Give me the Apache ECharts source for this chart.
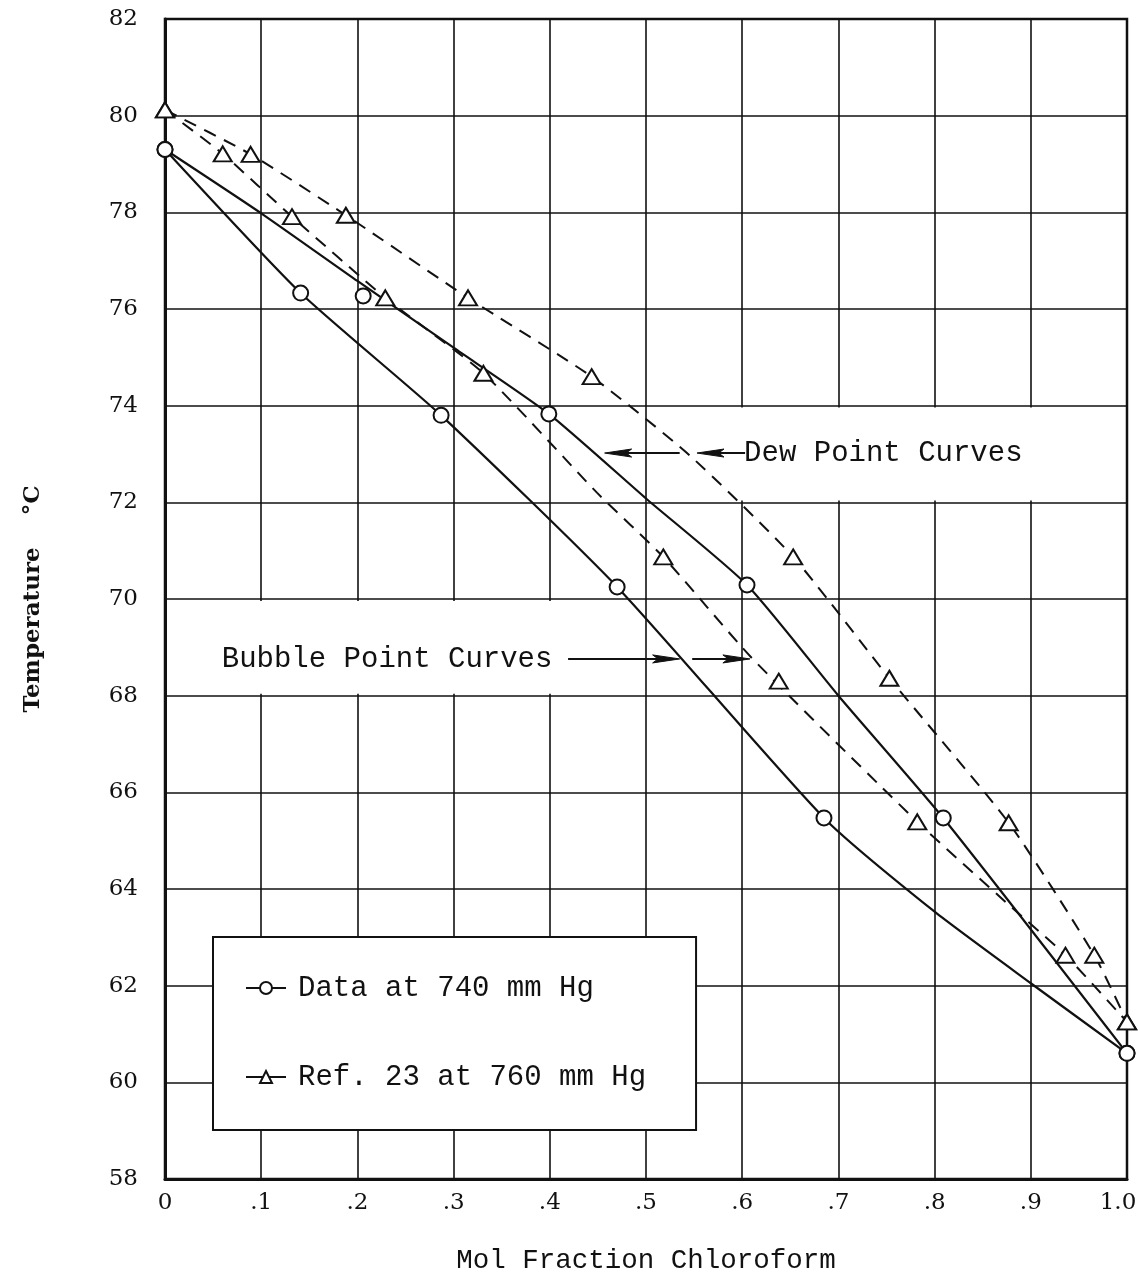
<!DOCTYPE html>
<html>
<head>
<meta charset="utf-8">
<title>Temperature vs Mol Fraction Chloroform</title>
<script src="https://cdn.jsdelivr.net/npm/echarts@6/dist/echarts.min.js"></script>
<style>
  html, body { margin: 0; padding: 0; background: #fff; }
  #chart { width: 1138px; height: 1275px; }
</style>
</head>
<body>
<div id="chart"></div>
<script>
// ---- axis ticks ----
const xTickLabels = ['0', '.1', '.2', '.3', '.4', '.5', '.6', '.7', '.8', '.9', '1.0'];
const yTickValues = [58, 60, 62, 64, 66, 68, 70, 72, 74, 76, 78, 80, 82];

// ---- measured points, 740 mm Hg (circles) ----
const data740BubbleX = [0, 0.141, 0.287, 0.470, 0.685, 1.0];
const data740BubbleT = [79.3, 76.33, 73.80, 70.25, 65.47, 60.6];
const data740DewX = [0, 0.206, 0.399, 0.605, 0.809, 1.0];
const data740DewT = [79.3, 76.27, 73.83, 70.29, 65.47, 60.6];

// ---- Ref. 23 points, 760 mm Hg (triangles) ----
const ref760BubbleX = [0, 0.060, 0.132, 0.229, 0.331, 0.518, 0.638, 0.782, 0.936, 1.0];
const ref760BubbleT = [80.12, 79.21, 77.91, 76.23, 74.67, 70.87, 68.30, 65.39, 62.63, 61.25];
const ref760DewX = [0, 0.089, 0.188, 0.315, 0.4435, 0.653, 0.753, 0.877, 0.966, 1.0];
const ref760DewT = [80.12, 79.20, 77.94, 76.23, 74.60, 70.87, 68.36, 65.37, 62.63, 61.25];

// ---- hand-fitted curves ----
const curve740BubbleX = [0, 0.141, 0.287, 0.470, 0.685, 0.80, 0.90, 1.0];
const curve740BubbleT = [79.3, 76.33, 73.80, 70.25, 65.47, 63.53, 62.05, 60.6];
const curve740DewX = [0, 0.10, 0.20, 0.30, 0.399, 0.50, 0.605, 0.70, 0.809, 1.0];
const curve740DewT = [79.3, 77.98, 76.58, 75.20, 73.83, 72.08, 70.29, 68.00, 65.47, 60.6];
const curveRefBubbleX = [0, 0.060, 0.132, 0.229, 0.331, 0.449, 0.518, 0.610, 0.782, 0.875, 0.936, 1.0];
const curveRefBubbleT = [80.12, 79.21, 77.91, 76.23, 74.67, 72.20, 70.87, 68.78, 65.39, 63.71, 62.63, 61.25];
const curveRefDewX = [0, 0.089, 0.188, 0.315, 0.4435, 0.546, 0.653, 0.753, 0.877, 0.966, 1.0];
const curveRefDewT = [80.12, 79.20, 77.94, 76.23, 74.60, 72.96, 70.87, 68.36, 65.37, 62.63, 61.25];

// ---- annotations (data units) ----
const noteTexts = ['Dew Point Curves', 'Bubble Point Curves'];
const noteX = [0.602, 0.059];
const noteT = [73.02, 68.76];
// arrows: tail x, tip x, temperature
const arrowTail = [0.603, 0.535, 0.419, 0.548];
const arrowTip = [0.553, 0.457, 0.535, 0.608];
const arrowT = [73.02, 73.02, 68.76, 68.76];

const INK = '#111';
const SERIF = '"DejaVu Serif", "Liberation Serif", serif';
const MONO = '"Liberation Mono", "DejaVu Sans Mono", monospace';

const pairs = (xs, ys) => xs.map((x, i) => [x, ys[i]]);

const curveSeries = (data, dashed) => ({
  type: 'line',
  data: data,
  showSymbol: false,
  smooth: 0.2,
  silent: true,
  z: 2,
  lineStyle: { color: INK, width: dashed ? 2 : 2.2, type: dashed ? [13, 9] : 'solid' }
});

const markerSeries = (name, data, symbol, size) => ({
  name: name,
  type: 'line',
  data: data,
  symbol: symbol,
  symbolSize: size,
  showAllSymbol: true,
  silent: true,
  z: 5,
  lineStyle: { opacity: 0, width: 0 },
  itemStyle: { color: '#fff', borderColor: INK, borderWidth: 2 }
});

const tickFont = { fontFamily: SERIF, fontSize: 23, color: INK };

const chart = echarts.init(document.getElementById('chart'), null, { renderer: 'canvas' });

const option = {
  animation: false,
  backgroundColor: '#fff',
  grid: {
    left: 165, right: 11, top: 19, bottom: 96,
    outerBoundsMode: 'none',
    containLabel: false,
    show: true, borderColor: INK, borderWidth: 2.5, backgroundColor: 'transparent'
  },
  xAxis: {
    type: 'value', min: 0, max: 1, interval: 0.1,
    name: 'Mol Fraction Chloroform', nameLocation: 'middle', nameGap: 68,
    nameTextStyle: { fontFamily: MONO, fontSize: 27.5, color: INK },
    axisLine: { show: true, lineStyle: { color: INK, width: 3 } },
    axisTick: { show: false },
    axisLabel: Object.assign({
      margin: 13,
      showMinLabel: true, showMaxLabel: true,
      formatter: v => {
        const i = Math.round(v * 10);
        // last label sits a little inside the right border
        return i === xTickLabels.length - 1 ? '{end|' + xTickLabels[i] + '}' : xTickLabels[i];
      },
      rich: { end: Object.assign({ padding: [0, 18, 0, 0] }, tickFont) }
    }, tickFont),
    splitLine: { show: true, lineStyle: { color: INK, width: 1.6 } }
  },
  yAxis: {
    type: 'value', min: yTickValues[0], max: yTickValues[yTickValues.length - 1], interval: 2,
    name: 'Temperature    °C', nameLocation: 'middle', nameGap: 120, nameRotate: 90,
    nameTextStyle: { fontFamily: SERIF, fontSize: 23, fontWeight: 'bold', color: INK },
    axisLine: { show: true, lineStyle: { color: INK, width: 3 } },
    axisTick: { show: false },
    axisLabel: Object.assign({ margin: 27, showMinLabel: true, showMaxLabel: true }, tickFont),
    splitLine: { show: true, lineStyle: { color: INK, width: 1.6 } }
  },
  legend: {
    data: ['Data at 740 mm Hg', 'Ref. 23 at 760 mm Hg'],
    orient: 'vertical',
    left: 213, top: 937,
    padding: [36, 50, 38, 32],
    itemGap: 59,
    itemWidth: 40,
    itemHeight: 15,
    selectedMode: false,
    backgroundColor: '#fff',
    borderColor: INK,
    borderWidth: 2,
    borderRadius: 0,
    textStyle: { fontFamily: MONO, fontSize: 29, color: INK, lineHeight: 30, padding: [0, 0, 0, 7] },
    lineStyle: { color: INK, width: 2, type: 'solid', opacity: 1 },
    itemStyle: { color: '#fff', borderColor: INK, borderWidth: 2 }
  },
  series: [
    // white panels behind the captions
    {
      type: 'line', data: [], z: 1, silent: true,
      markArea: {
        silent: true,
        itemStyle: { color: '#fff', opacity: 1, borderWidth: 0 },
        label: { show: false },
        data: [
          [{ coord: [0.505, 72.04] }, { coord: [0.996, 73.96] }],
          [{ coord: [0.004, 68.04] }, { coord: [0.475, 69.96] }]
        ]
      }
    },
    curveSeries(pairs(curve740BubbleX, curve740BubbleT), false),
    curveSeries(pairs(curve740DewX, curve740DewT), false),
    curveSeries(pairs(curveRefBubbleX, curveRefBubbleT), true),
    curveSeries(pairs(curveRefDewX, curveRefDewT), true),
    markerSeries('Data at 740 mm Hg', pairs(data740BubbleX, data740BubbleT), 'circle', 15),
    markerSeries('Data at 740 mm Hg', pairs(data740DewX, data740DewT), 'circle', 15),
    markerSeries('Ref. 23 at 760 mm Hg', pairs(ref760BubbleX, ref760BubbleT), 'triangle', [18, 15]),
    markerSeries('Ref. 23 at 760 mm Hg', pairs(ref760DewX, ref760DewT), 'triangle', [18, 15])
  ]
};

chart.setOption(option);

// captions and pointer arrows, placed through the grid's coordinate system
const toPx = (x, t) => chart.convertToPixel({ gridIndex: 0 }, [x, t]);
const graphics = [];
noteTexts.forEach((txt, i) => {
  const p = toPx(noteX[i], noteT[i]);
  graphics.push({
    type: 'text', x: p[0], y: p[1], z: 100, silent: true,
    style: {
      text: txt, font: '29px ' + MONO, fill: INK,
      align: 'left', verticalAlign: 'middle',
      textAlign: 'left', textVerticalAlign: 'middle'
    }
  });
});
arrowTail.forEach((tail, i) => {
  const a = toPx(tail, arrowT[i]);
  const b = toPx(arrowTip[i], arrowT[i]);
  const dir = b[0] > a[0] ? 1 : -1;
  const headLen = 27, headHalf = 4;
  graphics.push({
    type: 'polyline', z: 100, silent: true,
    shape: { points: [a, [b[0] - dir * 6, b[1]]] },
    style: { stroke: INK, lineWidth: 2, fill: null }
  });
  graphics.push({
    type: 'polygon', z: 100, silent: true,
    shape: { points: [
      [b[0], b[1]],
      [b[0] - dir * headLen, b[1] - headHalf],
      [b[0] - dir * headLen * 0.8, b[1]],
      [b[0] - dir * headLen, b[1] + headHalf]
    ] },
    style: { fill: INK, stroke: INK, lineWidth: 1 }
  });
});
chart.setOption({ graphic: graphics });
</script>
</body>
</html>
